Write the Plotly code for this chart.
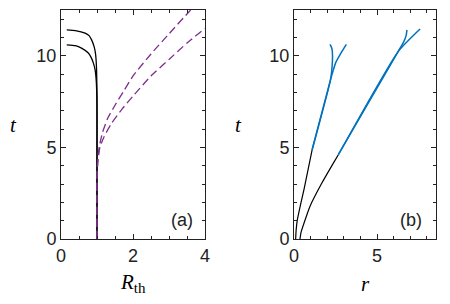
import plotly.graph_objects as go

# Panel (a): R_th vs t
a_black1_R = [0.16, 0.4, 0.67, 0.78, 0.85, 0.92, 0.96, 0.985, 0.995, 1.0, 1.0]
a_black1_t = [11.42, 11.38, 11.24, 11.1, 10.87, 10.5, 10.1, 9.4, 8.5, 7.5, 0.0]
a_black2_R = [0.16, 0.4, 0.57, 0.76, 0.84, 0.9, 0.95, 0.98, 0.995, 1.0, 1.0]
a_black2_t = [10.6, 10.55, 10.42, 10.15, 9.9, 9.6, 9.2, 8.6, 7.8, 6.8, 0.0]
a_purple1_R = [1.0, 1.0, 1.02, 1.06, 1.15, 1.3, 1.5, 1.75, 2.0, 2.5, 3.0, 3.6]
a_purple1_t = [0.0, 3.5, 4.3, 5.0, 5.8, 6.6, 7.3, 8.1, 8.9, 10.1, 11.2, 12.5]
a_purple2_R = [1.0, 1.0, 1.03, 1.08, 1.2, 1.4, 1.7, 2.0, 2.5, 3.0, 3.5, 4.0]
a_purple2_t = [0.0, 3.5, 4.3, 5.0, 5.6, 6.3, 7.1, 7.8, 8.9, 9.8, 10.7, 11.5]

# Panel (b): r vs t
b_black1_r = [0.1, 0.13, 0.2, 0.4, 0.6, 0.85, 1.1]
b_black1_t = [0.0, 0.5, 1.04, 1.9, 2.7, 3.8, 4.9]
b_black2_r = [0.36, 0.42, 0.6, 0.96, 1.67, 2.37, 2.67]
b_black2_t = [0.0, 0.35, 0.86, 1.78, 3.04, 4.14, 4.6]
b_blue1a_r = [1.1, 2.2, 2.3, 2.32, 2.28, 2.17]
b_blue1a_t = [4.9, 8.7, 9.5, 10.0, 10.4, 10.62]
b_blue1b_r = [1.1, 2.2, 2.5, 2.8, 3.15]
b_blue1b_t = [4.9, 8.7, 9.6, 10.1, 10.62]
b_blue2a_r = [2.67, 6.27, 6.6, 6.75, 6.8]
b_blue2a_t = [4.6, 10.23, 10.75, 11.1, 11.42]
b_blue2b_r = [2.67, 6.27, 7.59]
b_blue2b_t = [4.6, 10.23, 11.46]

BLACK = "#000000"
PURPLE = "#7E2F8E"
BLUE = "#0072BD"

fig = go.Figure()

def line(x, y, color, width, xa, ya, dash="solid"):
    fig.add_trace(go.Scatter(x=x, y=y, mode="lines", xaxis=xa, yaxis=ya,
                             line=dict(color=color, width=width, dash=dash,
                                       shape="spline", smoothing=0.5),
                             showlegend=False, hoverinfo="skip"))

line(a_black1_R, a_black1_t, BLACK, 1.3, "x", "y")
line(a_black2_R, a_black2_t, BLACK, 1.3, "x", "y")
line(a_purple1_R, a_purple1_t, PURPLE, 1.3, "x", "y", dash="8px,4px")
line(a_purple2_R, a_purple2_t, PURPLE, 1.3, "x", "y", dash="8px,4px")

line(b_black1_r, b_black1_t, BLACK, 1.2, "x2", "y2")
line(b_black2_r, b_black2_t, BLACK, 1.2, "x2", "y2")
line(b_blue1a_r, b_blue1a_t, BLUE, 1.5, "x2", "y2")
line(b_blue1b_r, b_blue1b_t, BLUE, 1.5, "x2", "y2")
line(b_blue2a_r, b_blue2a_t, BLUE, 1.5, "x2", "y2")
line(b_blue2b_r, b_blue2b_t, BLUE, 1.5, "x2", "y2")

# page body has an 8px margin; figure sized to fill the 450x304 window
OFF = 8
W, H = 450 - 2 * OFF, 304 - 2 * OFF

def px(xs):
    return (xs - OFF) / W

def py(ys):
    return 1 - (ys - OFF) / H

tickfont = dict(family="Liberation Sans, Arial, sans-serif", size=18, color="#222222")

def axis(domain, rng, dtick, minor_dtick, anchor):
    return dict(domain=domain, range=rng, dtick=dtick, tick0=0, anchor=anchor,
                automargin=False,
                showline=True, linecolor="#222222", linewidth=1, mirror="allticks",
                ticks="inside", ticklen=5, tickwidth=1, tickcolor="#222222",
                showgrid=False, zeroline=False, tickfont=tickfont,
                minor=dict(dtick=minor_dtick, tick0=0, ticks="inside", ticklen=3,
                           tickwidth=1, tickcolor="#222222", showgrid=False),
                fixedrange=True)

yd = [py(239), py(10)]
fig.update_layout(
    template="none",
    width=W, height=H,
    margin=dict(l=0, r=0, t=0, b=0, autoexpand=False),
    paper_bgcolor="white", plot_bgcolor="white",
    xaxis=axis([px(61), px(205)], [0, 4], 2, 0.5, "y"),
    yaxis=axis(yd, [0, 12.5], 5, 1, "x"),
    xaxis2=axis([px(294), px(436)], [0, 8.55], 5, 1, "y2"),
    yaxis2=axis(yd, [0, 12.5], 5, 1, "x2"),
)

serif = dict(family="Liberation Serif, DejaVu Serif, serif", size=21, color="black")
sans = dict(family="Liberation Sans, Arial, sans-serif", size=18, color="#222222")
ann = [
    dict(x=px(133), y=py(283), text="<i>R</i><sub><span style='font-size:15px'>th</span></sub>", font=serif),
    dict(x=px(365), y=py(284), text="<i>r</i>", font=serif),
    dict(x=px(13), y=py(125), text="<i>t</i>", font=serif),
    dict(x=px(238), y=py(125), text="<i>t</i>", font=serif),
    dict(x=px(182), y=py(220), text="(a)", font=sans),
    dict(x=px(411), y=py(220), text="(b)", font=sans),
]
for a in ann:
    a.update(xref="paper", yref="paper", showarrow=False, xanchor="center", yanchor="middle")
fig.update_layout(annotations=ann)

fig.write_html("out.html")
